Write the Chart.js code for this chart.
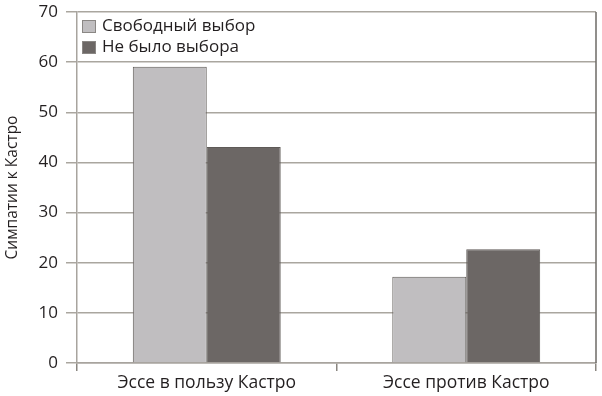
<!DOCTYPE html>
<html>
<head>
<meta charset="utf-8">
<script src="https://cdn.jsdelivr.net/npm/chart.js@4"></script>
<style>
  html, body { margin: 0; padding: 0; background: #fff; }
  #wrap { width: 602px; height: 396px; position: relative; }
</style>
</head>
<body>
<div id="wrap"><canvas id="chart"></canvas></div>
<script>
// Chart data
const categories = ['Эссе в пользу Кастро', 'Эссе против Кастро'];
const freeChoice = [59.1, 17.2];
const noChoice = [43.1, 22.7];
const seriesNames = ['Свободный выбор', 'Не было выбора'];
const yTicks = [0, 10, 20, 30, 40, 50, 60, 70];
const yTitle = 'Симпатии к Кастро';

const FONT = '"Open Sans", "DejaVu Sans", sans-serif';
const TEXT = '#231f20';

// Legend drawn inside the plot, top-left, plus the right border line
const innerLegend = {
    id: 'innerLegend',
    afterDraw(chart) {
        const ctx = chart.ctx;
        const area = chart.chartArea;
        ctx.save();
        ctx.strokeStyle = '#6d6a66';
        ctx.lineWidth = 1.5;
        ctx.beginPath();
        ctx.moveTo(area.right, area.top);
        ctx.lineTo(area.right, area.bottom);
        ctx.stroke();

        chart.data.datasets.forEach((ds, i) => {
            const x = area.left + 5;
            const y = area.top + 8 + i * 21;
            ctx.fillStyle = ds.backgroundColor;
            ctx.fillRect(x, y, 14, 13);
            ctx.strokeStyle = '#8a8784';
            ctx.lineWidth = 1;
            ctx.strokeRect(x + 0.5, y + 0.5, 13, 12);
            ctx.fillStyle = TEXT;
            ctx.font = '17px ' + FONT;
            ctx.textBaseline = 'middle';
            ctx.fillText(ds.label, x + 20, y + 6);
        });
        ctx.restore();
    }
};

new Chart(document.getElementById('chart'), {
    type: 'bar',
    data: {
        labels: categories,
        datasets: [
            {
                label: seriesNames[0],
                data: freeChoice,
                backgroundColor: '#c0bec0',
                borderColor: '#5e5a57',
                borderWidth: 1
            },
            {
                label: seriesNames[1],
                data: noChoice,
                backgroundColor: '#6c6765',
                borderColor: '#5e5a57',
                borderWidth: 1
            }
        ]
    },
    options: {
        responsive: true,
        maintainAspectRatio: false,
        animation: false,
        layout: { padding: { top: 12, right: 6, left: 0, bottom: 0 } },
        datasets: {
            bar: { barPercentage: 1, categoryPercentage: 0.57 }
        },
        plugins: {
            legend: { display: false },
            tooltip: { enabled: false }
        },
        scales: {
            x: {
                afterFit: (scale) => {
                    scale.height = 33;
                    scale.paddingLeft = 0;
                    scale.paddingRight = 0;
                },
                grid: {
                    drawOnChartArea: false,
                    color: '#8a8680',
                    lineWidth: 1.5,
                    tickLength: 8
                },
                border: { color: '#a8a49e', width: 1.5 },
                ticks: {
                    color: TEXT,
                    font: { family: FONT, size: 17.5 },
                    padding: 2
                }
            },
            y: {
                min: 0,
                max: 70,
                afterFit: (scale) => {
                    scale.width = 77;
                    scale.paddingTop = 0;
                    scale.paddingBottom = 0;
                },
                afterBuildTicks: (scale) => { scale.ticks = yTicks.map(v => ({ value: v })); },
                grid: {
                    color: '#aaa69f',
                    lineWidth: 1.5,
                    tickLength: 11
                },
                border: { color: '#a8a49e', width: 1.5 },
                ticks: {
                    color: TEXT,
                    font: { family: FONT, size: 17 },
                    padding: 8
                },
                title: {
                    display: true,
                    text: yTitle,
                    color: TEXT,
                    font: { family: FONT, size: 15.5 },
                    padding: { top: 3, bottom: 4 }
                }
            }
        }
    },
    plugins: [innerLegend]
});
</script>
</body>
</html>
